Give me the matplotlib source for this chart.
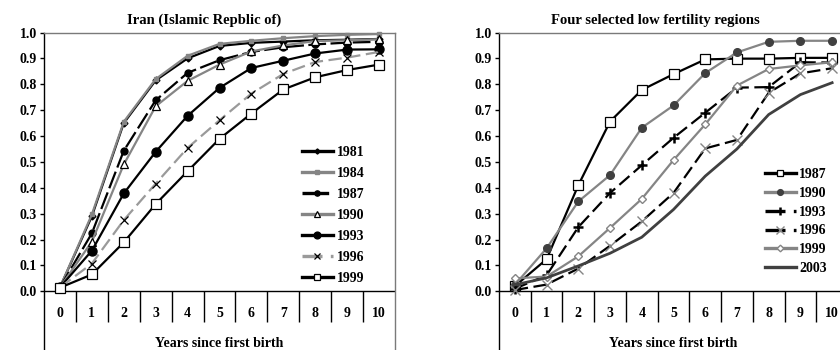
import numpy as np
import matplotlib
matplotlib.use("Agg")
import matplotlib.pyplot as plt

plt.rcParams['font.family'] = ['Liberation Serif', 'DejaVu Serif']
plt.rcParams['font.weight'] = 'bold'

# ---- data -------------------------------------------------------------
categories = ['0', '1', '2', '3', '4', '5', '6', '7', '8', '9', '10']

iran_years = ['1981', '1984', '1987', '1990', '1993', '1996', '1999']
iran_1981 = [0.015, 0.290, 0.650, 0.815, 0.900, 0.948, 0.960, 0.965, 0.970, 0.972, 0.975]
iran_1984 = [0.015, 0.297, 0.655, 0.820, 0.910, 0.956, 0.968, 0.978, 0.986, 0.991, 0.994]
iran_1987 = [0.015, 0.224, 0.543, 0.738, 0.844, 0.893, 0.925, 0.943, 0.954, 0.961, 0.964]
iran_1990 = [0.015, 0.192, 0.490, 0.715, 0.813, 0.876, 0.927, 0.950, 0.967, 0.970, 0.974]
iran_1993 = [0.015, 0.157, 0.378, 0.539, 0.678, 0.786, 0.863, 0.891, 0.919, 0.934, 0.935]
iran_1996 = [0.015, 0.107, 0.275, 0.416, 0.554, 0.661, 0.764, 0.840, 0.886, 0.903, 0.925]
iran_1999 = [0.014, 0.065, 0.189, 0.337, 0.464, 0.589, 0.687, 0.780, 0.827, 0.855, 0.876]

region_years = ['1987', '1990', '1993', '1996', '1999', '2003']
reg_1987 = [0.020, 0.124, 0.410, 0.656, 0.778, 0.839, 0.896, 0.899, 0.899, 0.902, 0.902]
reg_1990 = [0.025, 0.166, 0.347, 0.449, 0.632, 0.718, 0.843, 0.923, 0.964, 0.968, 0.968]
reg_1993 = [0.010, 0.062, 0.248, 0.380, 0.487, 0.593, 0.690, 0.787, 0.789, 0.885, 0.884]
reg_1996 = [0.005, 0.026, 0.088, 0.176, 0.270, 0.380, 0.552, 0.585, 0.767, 0.842, 0.862]
reg_1999 = [0.050, 0.057, 0.135, 0.245, 0.357, 0.507, 0.645, 0.795, 0.859, 0.873, 0.885]
reg_2003 = [0.025, 0.052, 0.098, 0.147, 0.209, 0.316, 0.445, 0.550, 0.683, 0.760, 0.806]

yticks = [0.0, 0.1, 0.2, 0.3, 0.4, 0.5, 0.6, 0.7, 0.8, 0.9, 1.0]

# ---- styles -----------------------------------------------------------
BLACK = '#000000'
GRAY = '#858585'
DARK = '#404040'
LW = 1.6

iran_styles = [
    dict(color=BLACK, ls='-', marker='D', ms=3.5, mfc=BLACK, mec=BLACK),
    dict(color=GRAY, ls='-', marker='s', ms=3.5, mfc=GRAY, mec=GRAY),
    dict(color=BLACK, ls=(0, (8, 2)), marker='o', ms=5, mfc=BLACK, mec=BLACK),
    dict(color=GRAY, ls='-', marker='^', ms=6, mfc='white', mec=BLACK, mew=0.9),
    dict(color=BLACK, ls='-', marker='o', ms=6.5, mfc=BLACK, mec=BLACK),
    dict(color='#9a9a9a', ls=(0, (6, 2.5)), marker='x', ms=6, mfc=BLACK, mec=BLACK, mew=0.9),
    dict(color=BLACK, ls='-', marker='s', ms=6.5, mfc='white', mec=BLACK, mew=0.9),
]

region_styles = [
    dict(color=BLACK, ls='-', marker='s', ms=6.5, mfc='white', mec=BLACK, mew=0.9),
    dict(color=GRAY, ls='-', marker='o', ms=5.5, mfc=DARK, mec=DARK),
    dict(color=BLACK, ls=(0, (6, 2.5)), marker='+', ms=7, mfc=BLACK, mec=BLACK, mew=1.8),
    dict(color=BLACK, ls=(0, (6, 2.5)), marker='x', ms=7, mfc=GRAY, mec=GRAY, mew=1.0),
    dict(color=GRAY, ls='-', marker='D', ms=4.5, mfc='white', mec=GRAY, mew=1.0),
    dict(color=DARK, ls='-', marker=None, lw=2.0),
]

# ---- figure -----------------------------------------------------------
W, H = 840, 350
fig = plt.figure(figsize=(W / 100, H / 100), dpi=100)

Y_TOP_PX = 32.5
Y_ZERO_PX = 291.3
UNIT_PX = Y_ZERO_PX - Y_TOP_PX
YMIN = -(H - Y_ZERO_PX) / UNIT_PX


def make_panel(x0, x1, title, title_x):
    ax = fig.add_axes([x0 / W, 0, (x1 - x0) / W, (H - Y_TOP_PX) / H])
    ax.set_xlim(-0.5, len(categories) - 0.5)
    ax.set_ylim(YMIN, 1.0)
    ax.set_xticks([])
    ax.set_yticks(yticks)
    ax.set_yticklabels([f"{v:.1f}" for v in yticks])
    ax.tick_params(axis='y', direction='out', length=3, width=1,
                   labelsize=10, pad=2, colors=BLACK)
    for lab in ax.get_yticklabels():
        lab.set_fontweight('bold')
    ax.spines['bottom'].set_visible(False)
    ax.spines['left'].set_color(BLACK)
    ax.spines['left'].set_linewidth(1.0)
    ax.spines['top'].set_color('#7a7a7a')
    ax.spines['top'].set_linewidth(1.0)
    ax.spines['right'].set_color('#7a7a7a')
    ax.spines['right'].set_linewidth(1.0)
    ax.patch.set_visible(False)

    # category axis at y = 0 with dividers between categories
    ax.axhline(0, color=BLACK, lw=1.0, zorder=1)
    ax.vlines(np.arange(0.5, len(categories) - 1, 1.0), -0.12, 0,
              color=BLACK, lw=1.0, zorder=1)
    for i, c in enumerate(categories):
        ax.text(i, -0.084, c, ha='center', va='center', fontsize=10,
                fontweight='bold')
    ax.text((len(categories) - 1) / 2, -0.2, 'Years since first birth',
            ha='center', va='center', fontsize=10, fontweight='bold')
    fig.text(title_x / W, 1 - 20.5 / H, title, ha='center', va='center',
             fontsize=10.5, fontweight='bold')
    return ax


x = np.arange(len(categories))

# left panel: Iran
ax1 = make_panel(44, 395, 'Iran (Islamic Repblic of)', 204)
iran_series = [iran_1981, iran_1984, iran_1987, iran_1990, iran_1993, iran_1996, iran_1999]
for yr, vals, st in zip(iran_years, iran_series, iran_styles):
    st = dict(st)
    lw = st.pop('lw', LW)
    ax1.plot(x, vals, label=yr, lw=lw, zorder=3, clip_on=False, **st)

leg1 = ax1.legend(loc='upper left', bbox_to_anchor=(302 / W, 1 - 146 / H),
                  bbox_transform=fig.transFigure, frameon=False,
                  borderpad=0, borderaxespad=0, handlelength=2.2,
                  handletextpad=0.35, labelspacing=0.58, markerscale=0.75,
                  prop=dict(size=10, weight='bold'))
for h in leg1.legend_handles:
    h.set_linewidth(2.4)

# right panel: four low fertility regions
ax2 = make_panel(499, 848, 'Four selected low fertility regions', 655)
region_series = [reg_1987, reg_1990, reg_1993, reg_1996, reg_1999, reg_2003]
for yr, vals, st in zip(region_years, region_series, region_styles):
    st = dict(st)
    lw = st.pop('lw', LW)
    ax2.plot(x, vals, label=yr, lw=lw, zorder=3, clip_on=False, **st)

leg2 = ax2.legend(loc='upper left', bbox_to_anchor=(765 / W, 1 - 168 / H),
                  bbox_transform=fig.transFigure, frameon=False,
                  borderpad=0, borderaxespad=0, handlelength=2.2,
                  handletextpad=0.25, labelspacing=0.42, markerscale=0.75,
                  prop=dict(size=10, weight='bold'))
for h in leg2.legend_handles:
    h.set_linewidth(2.4)

fig.savefig('out.png', dpi=100)
